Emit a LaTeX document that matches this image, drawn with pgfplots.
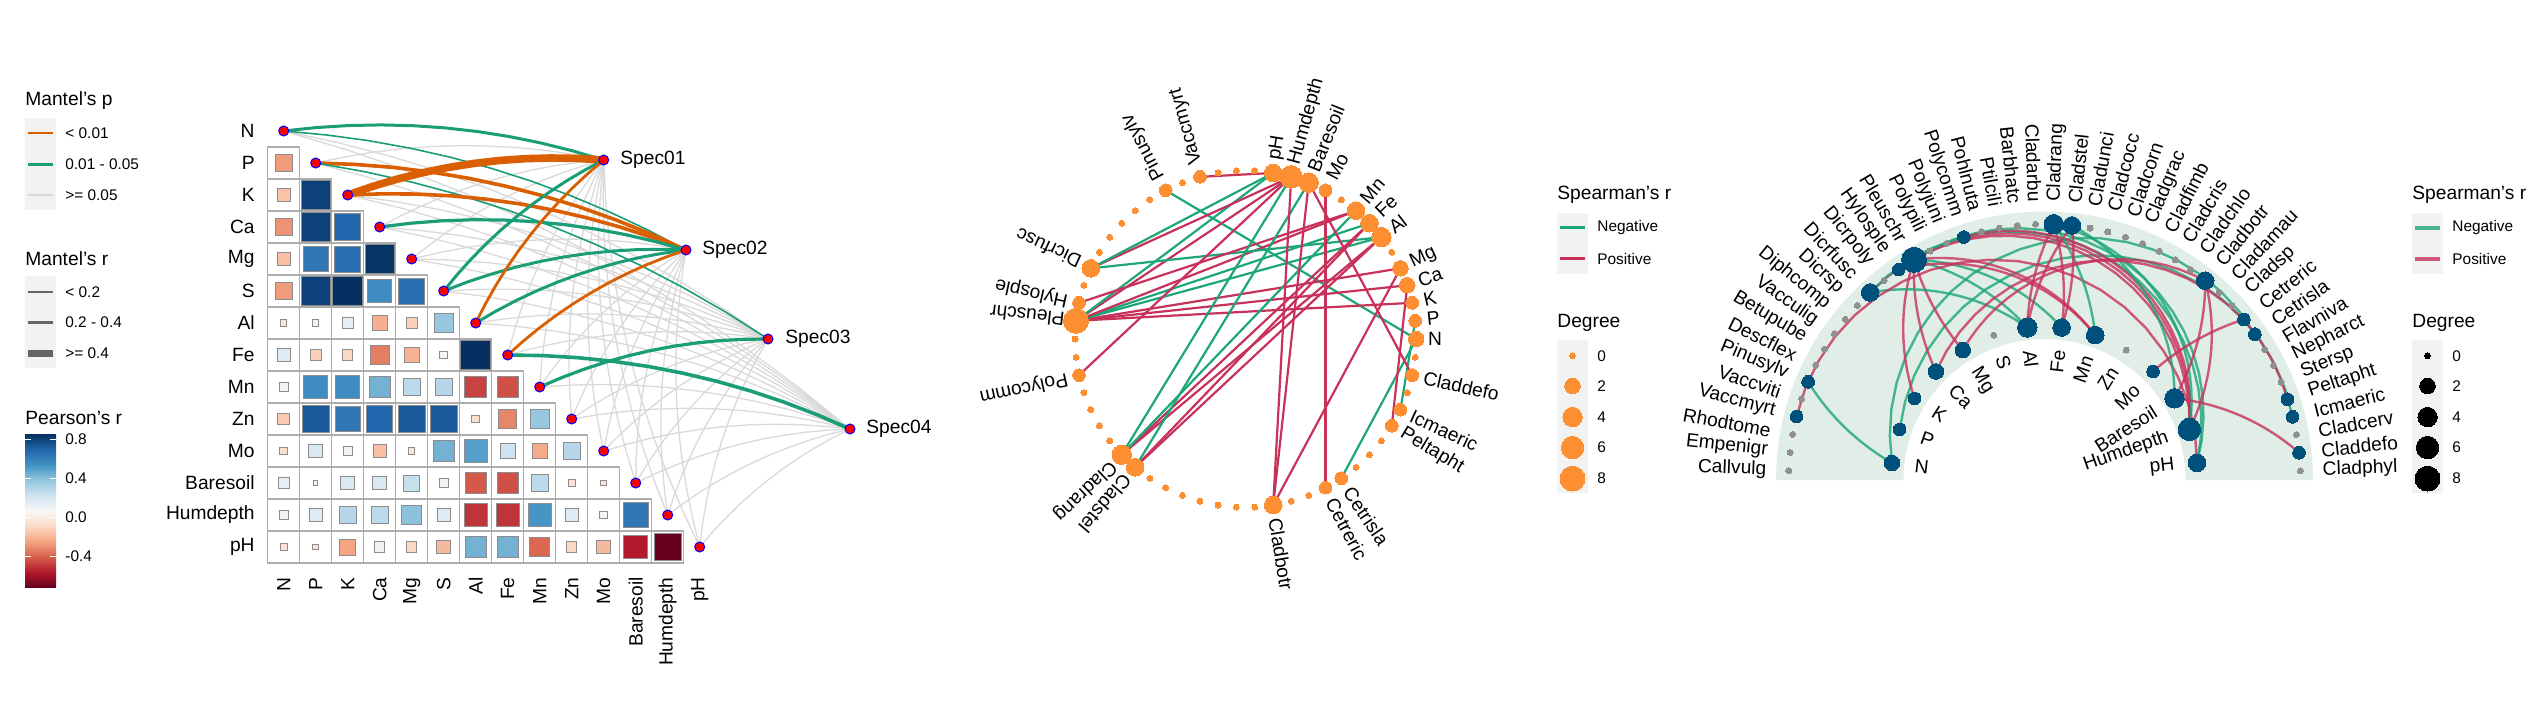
\documentclass[border=0pt]{standalone}
\usepackage{fontspec}
\setmainfont{Liberation Sans}
\usepackage{pgfplots}
\usepackage{pgfplotstable}
\pgfplotsset{compat=1.18}
\definecolor{rb0}{RGB}{103,0,31}
\definecolor{rb1}{RGB}{178,24,43}
\definecolor{rb2}{RGB}{214,96,77}
\definecolor{rb3}{RGB}{244,165,130}
\definecolor{rb4}{RGB}{253,219,199}
\definecolor{rb5}{RGB}{247,247,247}
\definecolor{rb6}{RGB}{209,229,240}
\definecolor{rb7}{RGB}{146,197,222}
\definecolor{rb8}{RGB}{67,147,195}
\definecolor{rb9}{RGB}{33,102,172}
\definecolor{rb10}{RGB}{5,48,97}
\definecolor{mor}{RGB}{217,95,2}
\definecolor{mgr}{RGB}{27,158,119}
\definecolor{mgy}{RGB}{217,217,217}
\definecolor{sgr}{RGB}{29,166,120}
\definecolor{srd}{RGB}{200,50,90}
\definecolor{nor}{RGB}{254,142,50}
\definecolor{nbl}{RGB}{0,80,124}
\definecolor{lbg}{RGB}{242,242,242}
\definecolor{band}{RGB}{224,238,231}
\definecolor{ngy}{RGB}{144,144,144}
\pgfplotstableread{
c y r
0 1 -.27
0 2 -.16
1 2 .80
0 3 -.29
1 3 .80
2 3 .69
0 4 -.17
1 4 .63
2 4 .66
3 4 .84
0 5 -.27
1 5 .80
2 5 .85
3 5 .56
4 5 .66
0 6 -.04
1 6 .04
2 6 .125
3 6 -.22
4 6 -.125
5 6 .365
0 7 .17
1 7 -.125
2 7 -.10
3 7 -.34
4 7 -.21
5 7 .06
6 7 .85
0 8 .085
1 8 .56
2 8 .56
3 8 .44
4 8 .27
5 8 .29
6 8 -.47
7 8 -.44
0 9 -.14
1 9 .73
2 9 .63
3 9 .69
4 9 .73
5 9 .73
6 9 -.06
7 9 -.32
8 9 .365
0 10 -.06
1 10 .19
2 10 .085
3 10 -.17
4 10 -.04
5 10 .44
6 10 .50
7 10 .23
8 10 -.23
9 10 .29
0 11 .125
1 11 .016
2 11 .19
3 11 .19
4 11 .25
5 11 .085
6 11 -.42
7 11 -.44
8 11 .27
9 11 -.05
10 11 -.035
0 12 .085
1 12 .17
2 12 .29
3 12 .27
4 12 .39
5 12 .17
6 12 -.50
7 12 -.50
8 12 .53
9 12 .16
10 12 .06
11 12 .63
0 13 -.05
1 13 -.035
2 13 -.25
3 13 .10
4 13 -.10
5 13 -.19
6 13 .44
7 13 .44
8 13 -.39
9 13 -.10
10 13 -.19
11 13 -.56
12 13 -.73
}\corrtab
\pgfplotstableread{
i deg
0 2
1 1
2 1
3 2
4 2
6 4
7 3
8 3
10 1
11 4
12 6
13 3
17 1
19 1
25 3
27 1
28 8
31 1
36 4
37 3
45 3
48 1
49 1
53 1
54 1
56 1
}\nodetab
\pgfplotstableread{
i deg
5 0
9 0
14 0
15 0
16 0
18 0
20 0
21 0
22 0
23 0
24 0
26 0
29 0
30 0
32 0
33 0
34 0
35 0
38 0
39 0
40 0
41 0
42 0
43 0
44 0
46 0
47 0
50 0
51 0
52 0
55 0
57 0
}\zerotab
\pgfplotstableread{
deg y
2 386
4 417
6 447.5
8 478.6
}\legtab
% quadratic link: style,x0,y0,cx,cy,x1,y1
\newcommand{\qlink}[7]{%
  \gdef\pts{}%
  \foreach \t in {0,0.1,0.2,0.3,0.4,0.5,0.6,0.7,0.8,0.9,1}{%
    \pgfmathsetmacro\qx{(1-\t)*(1-\t)*#2+2*\t*(1-\t)*#4+\t*\t*#6}%
    \pgfmathsetmacro\qy{(1-\t)*(1-\t)*#3+2*\t*(1-\t)*#5+\t*\t*#7}%
    \xdef\pts{\pts(\qx,\qy)}%
  }%
  \edef\temp{\noexpand\addplot[#1] coordinates {\pts};}\temp
}
% Mantel link: style, env index, spec index
\newcommand{\mlink}[3]{%
  \pgfmathsetmacro\xa{283.7+32*#2}%
  \pgfmathsetmacro\ya{131+32*#2}%
  \pgfmathsetmacro\xb{{603.7,686,768,850}[#3]}%
  \pgfmathsetmacro\yb{{160,250,339,429}[#3]}%
  \pgfmathsetmacro\cxx{(\xa+\xb)/2+0.11*(\yb-\ya)}%
  \pgfmathsetmacro\cyy{(\ya+\yb)/2-0.11*(\xb-\xa)}%
  \qlink{#1}{\xa}{\ya}{\cxx}{\cyy}{\xb}{\yb}%
}
% circle link: style, i, j
\newcommand{\clink}[3]{%
  \pgfmathsetmacro\xa{1245.6+170.6*cos(#2*6.2069)}%
  \pgfmathsetmacro\ya{339-168.3*sin(#2*6.2069)}%
  \pgfmathsetmacro\xb{1245.6+170.6*cos(#3*6.2069)}%
  \pgfmathsetmacro\yb{339-168.3*sin(#3*6.2069)}%
  \edef\temp{\noexpand\addplot[#1,line width=1.1pt] coordinates {(\xa,\ya)(\xb,\yb)};}\temp
}
% arc link (circular arc bulging away from the layout centre): style, env index, species index
\newcommand{\alink}[3]{%
  \pgfmathsetmacro\xa{2044.5+153.5*cos(173.6-12.86*#2)}%
  \pgfmathsetmacro\ya{480-153.5*sin(173.6-12.86*#2)}%
  \pgfmathsetmacro\xb{2044.5+256*cos(177.9-4.09*#3)}%
  \pgfmathsetmacro\yb{480-256*sin(177.9-4.09*#3)}%
  \pgfmathsetmacro\len{veclen(\xb-\xa,\yb-\ya)}%
  \pgfmathsetmacro\mx{(\xa+\xb)/2}%
  \pgfmathsetmacro\my{(\ya+\yb)/2}%
  \pgfmathsetmacro\ux{(\xb-\xa)/\len}%
  \pgfmathsetmacro\uy{(\yb-\ya)/\len}%
  \pgfmathsetmacro\sgn{(\uy*(\mx-2044.5)-\ux*(\my-480))<0?-1:1}%
  \pgfmathsetmacro\nx{\uy*\sgn}%
  \pgfmathsetmacro\ny{-\ux*\sgn}%
  \pgfmathsetmacro\sag{(0.3+0.002*\len)*\len/1000*\len}%
  \pgfmathsetmacro\alp{2*atan(2*\sag/\len)}%
  \pgfmathsetmacro\rad{\len/(2*sin(\alp))}%
  \gdef\pts{}%
  \foreach \t in {-1,-0.9,-0.8,-0.7,-0.6,-0.5,-0.4,-0.3,-0.2,-0.1,0,0.1,0.2,0.3,0.4,0.5,0.6,0.7,0.8,0.9,1}{%
    \pgfmathsetmacro\ca{\rad*(cos(\alp*\t)-cos(\alp))}%
    \pgfmathsetmacro\cb{\rad*sin(\alp*\t)}%
    \pgfmathsetmacro\qx{\mx+\nx*\ca+\ux*\cb}%
    \pgfmathsetmacro\qy{\my+\ny*\ca+\uy*\cb}%
    \xdef\pts{\pts(\qx,\qy)}%
  }%
  \edef\temp{\noexpand\addplot[#1,line width=1.2pt,opacity=.8] coordinates {\pts};}\temp
}
\newcommand{\lab}[5]{% x,y,rot,anchor,text
  \edef\temp{\noexpand\node[big,rotate=#3,anchor=#4] at (axis cs:#1,#2) {#5};}\temp
}
\tikzset{
  big/.style={inner sep=0pt,font=\fontsize{9.6}{11}\selectfont},
  small/.style={inner sep=0pt,font=\fontsize{7.7}{9}\selectfont},
  gl/.style={color=mgy,line width=.65pt},
  gr/.style={color=mgr},
  orn/.style={color=mor},
  sg/.style={color=sgr},
  sr/.style={color=srd}
}
\begin{document}
\begin{tikzpicture}
\begin{axis}[
  width=1267pt,height=356pt,scale only axis,
  xmin=0,xmax=2534,ymin=0,ymax=712,y dir=reverse,
  hide axis,clip=false,
  point meta min=-0.72,point meta max=0.85,
  colormap={rdbu}{rgb255=(103,0,31) rgb255=(178,24,43) rgb255=(214,96,77) rgb255=(244,165,130) rgb255=(253,219,199) rgb255=(247,247,247) rgb255=(209,229,240) rgb255=(146,197,222) rgb255=(67,147,195) rgb255=(33,102,172) rgb255=(5,48,97)},
]
\path (rel axis cs:0,0) rectangle (rel axis cs:1,1);
%===== legends left
\node[big,anchor=west] at (axis cs:25,101) {Mantel's p};
\fill[lbg] (axis cs:25,118) rectangle (axis cs:56,210);
\addplot[color=mor,line width=1.2pt] coordinates {(28,133)(53,133)};
\addplot[color=mgr,line width=1.2pt] coordinates {(28,164.5)(53,164.5)};
\addplot[color=mgy,line width=1.2pt] coordinates {(28,195)(53,195)};
\node[small,anchor=west] at (axis cs:65,133) {< 0.01};
\node[small,anchor=west] at (axis cs:65,164.5) {0.01 - 0.05};
\node[small,anchor=west] at (axis cs:65,195) {>= 0.05};
\node[big,anchor=west] at (axis cs:25,259) {Mantel's r};
\fill[lbg] (axis cs:25,276) rectangle (axis cs:56,368);
\addplot[color=black!60,line width=.7pt] coordinates {(28,292)(53,292)};
\addplot[color=black!60,line width=1.7pt] coordinates {(28,322.5)(53,322.5)};
\addplot[color=black!60,line width=3.8pt] coordinates {(28,353.6)(53,353.6)};
\node[small,anchor=west] at (axis cs:65,292) {< 0.2};
\node[small,anchor=west] at (axis cs:65,322.5) {0.2 - 0.4};
\node[small,anchor=west] at (axis cs:65,353.6) {>= 0.4};
\node[big,anchor=west] at (axis cs:25,418) {Pearson's r};
\shade[top color=rb10,bottom color=rb9] (axis cs:25,434.3) rectangle (axis cs:56,449.6);
\shade[top color=rb9,bottom color=rb8] (axis cs:25,449.6) rectangle (axis cs:56,464.9);
\shade[top color=rb8,bottom color=rb7] (axis cs:25,464.9) rectangle (axis cs:56,480.2);
\shade[top color=rb7,bottom color=rb6] (axis cs:25,480.2) rectangle (axis cs:56,495.5);
\shade[top color=rb6,bottom color=rb5] (axis cs:25,495.5) rectangle (axis cs:56,510.8);
\shade[top color=rb5,bottom color=rb4] (axis cs:25,510.8) rectangle (axis cs:56,526.1);
\shade[top color=rb4,bottom color=rb3] (axis cs:25,526.1) rectangle (axis cs:56,541.4);
\shade[top color=rb3,bottom color=rb2] (axis cs:25,541.4) rectangle (axis cs:56,556.7);
\shade[top color=rb2,bottom color=rb1] (axis cs:25,556.7) rectangle (axis cs:56,572);
\shade[top color=rb1,bottom color=rb0] (axis cs:25,572) rectangle (axis cs:56,587.4);
\addplot[color=white,line width=.4pt] coordinates {(25,439.2)(31,439.2)};
\addplot[color=white,line width=.4pt] coordinates {(50,439.2)(56,439.2)};
\addplot[color=white,line width=.4pt] coordinates {(25,478.2)(31,478.2)};
\addplot[color=white,line width=.4pt] coordinates {(50,478.2)(56,478.2)};
\addplot[color=white,line width=.4pt] coordinates {(25,517.2)(31,517.2)};
\addplot[color=white,line width=.4pt] coordinates {(50,517.2)(56,517.2)};
\addplot[color=white,line width=.4pt] coordinates {(25,556.2)(31,556.2)};
\addplot[color=white,line width=.4pt] coordinates {(50,556.2)(56,556.2)};
\node[small,anchor=west] at (axis cs:65,439.2) {0.8};
\node[small,anchor=west] at (axis cs:65,478.2) {0.4};
\node[small,anchor=west] at (axis cs:65,517.2) {0.0};
\node[small,anchor=west] at (axis cs:65,556.2) {-0.4};
%===== panel 1 matrix
\addplot[only marks,mark=square,mark size=8pt,mark options={draw=black!32,fill=white,line width=.6pt}]
  table[x expr=283.7+32*\thisrow{c},y expr=131+32*\thisrow{y}] {\corrtab};
\addplot[scatter,only marks,mark=square*,
  scatter/use mapped color={draw=black!45,fill=mapped color},
  mark options={line width=.5pt},
  visualization depends on={8*sqrt(abs(\thisrow{r}))\as\msz},
  scatter/@pre marker code/.append style={/tikz/mark size=\msz},
  point meta=explicit]
  table[x expr=283.7+32*\thisrow{c},y expr=131+32*\thisrow{y},meta=r] {\corrtab};
%===== panel 1 links
\foreach \e/\s in {0/2,0/3,1/0,1/3,2/2,2/3,3/0,3/2,3/3,4/0,4/1,4/2,4/3,5/2,5/3,6/2,6/3,7/0,7/2,8/0,8/1,8/3,9/0,9/1,9/2,9/3,10/0,10/1,10/2,10/3,11/0,11/1,11/2,11/3,12/0,12/1,12/2,12/3,13/0,13/1,13/2,13/3}{\mlink{gl}{\e}{\s}}
\mlink{gr,line width=1.5pt}{0}{0}
\mlink{gr,line width=.8pt}{0}{1}
\mlink{orn,line width=1.8pt}{1}{1}
\mlink{gr,line width=.8pt}{1}{2}
\mlink{orn,line width=3.8pt}{2}{0}
\mlink{orn,line width=1.8pt}{2}{1}
\mlink{gr,line width=1.6pt}{3}{1}
\mlink{gr,line width=1.5pt}{5}{0}
\mlink{gr,line width=1.5pt}{5}{1}
\mlink{orn,line width=1.4pt}{6}{0}
\mlink{gr,line width=1.5pt}{6}{1}
\mlink{orn,line width=1.4pt}{7}{1}
\mlink{gr,line width=1.8pt}{7}{3}
\mlink{gr,line width=1.6pt}{8}{2}
\addplot[only marks,mark=*,mark size=2.5pt,mark options={fill=red,draw=blue,line width=.5pt}] coordinates {
(283.7,131)(315.7,163)(347.7,195)(379.7,227)(411.7,259)(443.7,291)(475.7,323)(507.7,355)(539.7,387)(571.7,419)(603.7,451)(635.7,483)(667.7,515)(699.7,547)
(603.7,160)(686,250)(768,339)(850,429)};
\foreach \n/\k in {N/0,P/1,K/2,Ca/3,Mg/4,S/5,Al/6,Fe/7,Mn/8,Zn/9,Mo/10,Baresoil/11,Humdepth/12,pH/13}{%
  \pgfmathsetmacro\yy{131+32*\k}%
  \pgfmathsetmacro\xx{283.7+32*\k}%
  \lab{255}{\yy}{0}{east}{\n}%
  \lab{\xx}{577}{90}{east}{\n}%
}
\lab{620}{160}{0}{west}{Spec01}
\lab{702}{250}{0}{west}{Spec02}
\lab{785}{339}{0}{west}{Spec03}
\lab{866}{429}{0}{west}{Spec04}
%===== panel 2 links
\clink{sg}{19}{0}
\clink{sg}{54}{1}
\clink{sg}{49}{0}
\clink{sr}{28}{2}
\clink{sr}{28}{3}
\clink{sr}{28}{4}
\clink{sg}{28}{6}
\clink{sg}{28}{7}
\clink{sr}{28}{8}
\clink{sr}{28}{12}
\clink{sg}{28}{13}
\clink{sg}{25}{6}
\clink{sr}{25}{12}
\clink{sg}{25}{13}
\clink{sr}{27}{8}
\clink{sr}{31}{12}
\clink{sr}{17}{13}
\clink{sr}{36}{6}
\clink{sr}{36}{7}
\clink{sg}{36}{8}
\clink{sg}{36}{12}
\clink{sr}{37}{6}
\clink{sr}{37}{7}
\clink{sg}{37}{11}
\clink{sr}{45}{4}
\clink{sr}{45}{11}
\clink{sr}{45}{12}
\clink{sr}{48}{10}
\clink{sr}{53}{3}
\clink{sr}{56}{11}
\addplot[only marks,mark=*,mark size=1.5pt,mark options={fill=nor,draw=nor,line width=0pt}]
  table[x expr=1245.6+170.6*cos(\thisrow{i}*6.2069),y expr=339-168.3*sin(\thisrow{i}*6.2069)] {\zerotab};
\addplot[scatter,only marks,mark=*,
  scatter/use mapped color={draw=nor,fill=nor},
  mark options={line width=0pt},
  visualization depends on={(6+6.7*sqrt(\thisrow{deg}))/4\as\msz},
  scatter/@pre marker code/.append style={/tikz/mark size=\msz},
  point meta=explicit]
  table[x expr=1245.6+170.6*cos(\thisrow{i}*6.2069),y expr=339-168.3*sin(\thisrow{i}*6.2069),meta=deg] {\nodetab};
\foreach \i/\n in {0/N,1/P,2/K,3/Ca,4/Mg,6/Al,7/Fe,8/Mn,10/Mo,11/Baresoil,12/Humdepth,13/pH,17/Vaccmyrt,19/Pinusylv,25/Dicrfusc,27/Hylosple,28/Pleuschr,31/Polycomm,36/Cladrang,37/Cladstel,45/Cladbotr,48/Cetreric,49/Cetrisla,53/Peltapht,54/Icmaeric,56/Claddefo}{%
  \pgfmathsetmacro\th{\i*6.2069}%
  \pgfmathsetmacro\xx{1245.6+182*cos(\th)}%
  \pgfmathsetmacro\yy{339-181*sin(\th)}%
  \lab{\xx}{\yy}{\th}{west}{\n}%
}
%===== shared legends
\foreach \bx/\lw/\op in {1557/1.4/1,2412/2/0.8}{%
  \pgfmathsetmacro\bxr{\bx+31}%
  \pgfmathsetmacro\tx{\bx+40}%
  \pgfmathsetmacro\la{\bx+3}%
  \pgfmathsetmacro\lb{\bx+28}%
  \edef\temp{\noexpand\fill[lbg] (axis cs:\bx,213) rectangle (axis cs:\bxr,273.6);
  \noexpand\fill[lbg] (axis cs:\bx,340) rectangle (axis cs:\bxr,493);
  \noexpand\addplot[color=sgr,line width=\lw pt,opacity=\op] coordinates {(\la,227.5)(\lb,227.5)};
  \noexpand\addplot[color=srd,line width=\lw pt,opacity=\op] coordinates {(\la,258.6)(\lb,258.6)};
  \noexpand\node[big,anchor=west] at (axis cs:\bx,195) {Spearman's r};
  \noexpand\node[big,anchor=west] at (axis cs:\bx,322.5) {Degree};
  \noexpand\node[small,anchor=west] at (axis cs:\tx,227.5) {Negative};
  \noexpand\node[small,anchor=west] at (axis cs:\tx,258.6) {Positive};
  \noexpand\node[small,anchor=west] at (axis cs:\tx,355.7) {0};
  \noexpand\node[small,anchor=west] at (axis cs:\tx,386) {2};
  \noexpand\node[small,anchor=west] at (axis cs:\tx,417) {4};
  \noexpand\node[small,anchor=west] at (axis cs:\tx,447.5) {6};
  \noexpand\node[small,anchor=west] at (axis cs:\tx,478.6) {8};}\temp
}
\addplot[only marks,mark=*,mark size=1.5pt,mark options={fill=nor,draw=nor,line width=0pt}] coordinates {(1572.5,355.7)};
\addplot[only marks,mark=*,mark size=1.5pt,mark options={fill=black,draw=black,line width=0pt}] coordinates {(2427.5,355.7)};
\addplot[scatter,only marks,mark=*,
  scatter/use mapped color={draw=nor,fill=nor},
  mark options={line width=0pt},
  visualization depends on={(6+6.7*sqrt(\thisrow{deg}))/4\as\msz},
  scatter/@pre marker code/.append style={/tikz/mark size=\msz},
  point meta=explicit]
  table[x expr=1572.5,y=y,meta=deg] {\legtab};
\addplot[scatter,only marks,mark=*,
  scatter/use mapped color={draw=black,fill=black},
  mark options={line width=0pt},
  visualization depends on={(6+6.7*sqrt(\thisrow{deg}))/4\as\msz},
  scatter/@pre marker code/.append style={/tikz/mark size=\msz},
  point meta=explicit]
  table[x expr=2427.5,y=y,meta=deg] {\legtab};
%===== panel 3
\fill[band] (axis cs:1776,480) arc[start angle=180,end angle=0,radius=134.25pt] -- (axis cs:2185.5,480) arc[start angle=0,end angle=180,radius=70.5pt] -- cycle;
\alink{sg}{0}{5}
\alink{sg}{1}{40}
\alink{sg}{0}{35}
\alink{sr}{2}{14}
\alink{sr}{3}{14}
\alink{sr}{4}{14}
\alink{sg}{6}{14}
\alink{sg}{7}{14}
\alink{sr}{8}{14}
\alink{sr}{12}{14}
\alink{sg}{13}{14}
\alink{sg}{6}{11}
\alink{sr}{12}{11}
\alink{sg}{13}{11}
\alink{sr}{8}{13}
\alink{sr}{12}{17}
\alink{sr}{13}{3}
\alink{sr}{6}{22}
\alink{sr}{7}{22}
\alink{sg}{8}{22}
\alink{sg}{12}{22}
\alink{sr}{6}{23}
\alink{sr}{7}{23}
\alink{sg}{11}{23}
\alink{sr}{4}{31}
\alink{sr}{11}{31}
\alink{sr}{12}{31}
\alink{sr}{10}{34}
\alink{sr}{3}{39}
\alink{sr}{11}{42}
\addplot[only marks,mark=*,mark size=1.5pt,mark options={fill=ngy,draw=ngy,line width=0pt}]
  table[x expr={2044.5+(\thisrow{i}<14?153.5*cos(173.6-12.86*\thisrow{i}):256*cos(177.9-4.09*(\thisrow{i}-14)))},
        y expr={480-(\thisrow{i}<14?153.5*sin(173.6-12.86*\thisrow{i}):256*sin(177.9-4.09*(\thisrow{i}-14)))}] {\zerotab};
\addplot[scatter,only marks,mark=*,
  scatter/use mapped color={draw=nbl,fill=nbl},
  mark options={line width=0pt},
  visualization depends on={(6+6.7*sqrt(\thisrow{deg}))/4\as\msz},
  scatter/@pre marker code/.append style={/tikz/mark size=\msz},
  point meta=explicit]
  table[x expr={2044.5+(\thisrow{i}<14?153.5*cos(173.6-12.86*\thisrow{i}):256*cos(177.9-4.09*(\thisrow{i}-14)))},
        y expr={480-(\thisrow{i}<14?153.5*sin(173.6-12.86*\thisrow{i}):256*sin(177.9-4.09*(\thisrow{i}-14)))},meta=deg] {\nodetab};
\foreach \n [count=\k from 0] in {N,P,K,Ca,Mg,S,Al,Fe,Mn,Zn,Mo,Baresoil,Humdepth,pH}{%
  \pgfmathsetmacro\th{173.6-12.86*\k}%
  \pgfmathsetmacro\xx{2044.5+131*cos(\th)}%
  \pgfmathsetmacro\yy{480-131*sin(\th)}%
  \ifnum\k<7
    \pgfmathsetmacro\rr{\th+180}%
    \lab{\xx}{\yy}{\rr}{west}{\n}%
  \else
    \lab{\xx}{\yy}{\th}{east}{\n}%
  \fi
}
\foreach \n [count=\k from 0] in {Callvulg,Empenigr,Rhodtome,Vaccmyrt,Vaccviti,Pinusylv,Descflex,Betupube,Vacculig,Diphcomp,Dicrsp,Dicrfusc,Dicrpoly,Hylosple,Pleuschr,Polypili,Polyjuni,Polycomm,Pohlnuta,Ptilcili,Barbhatc,Cladarbu,Cladrang,Cladstel,Cladunci,Cladcocc,Cladcorn,Cladgrac,Cladfimb,Cladcris,Cladchlo,Cladbotr,Cladamau,Cladsp,Cetreric,Cetrisla,Flavniva,Nepharct,Stersp,Peltapht,Icmaeric,Cladcerv,Claddefo,Cladphyl}{%
  \pgfmathsetmacro\th{177.9-4.09*\k}%
  \pgfmathsetmacro\xx{2044.5+278*cos(\th)}%
  \pgfmathsetmacro\yy{480-278*sin(\th)}%
  \ifnum\k<22
    \pgfmathsetmacro\rr{\th+180}%
    \lab{\xx}{\yy}{\rr}{east}{\n}%
  \else
    \lab{\xx}{\yy}{\th}{west}{\n}%
  \fi
}
\end{axis}
\end{tikzpicture}
\end{document}
